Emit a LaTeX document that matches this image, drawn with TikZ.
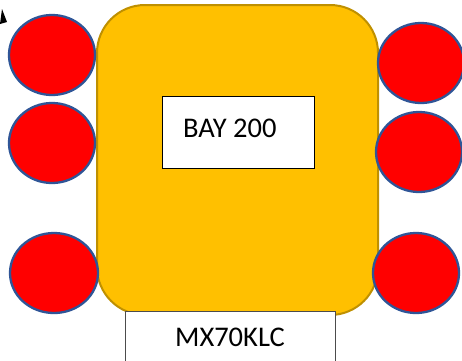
\documentclass[tikz,border=0pt]{standalone}
\usepackage{fontspec}
\setmainfont{Carlito}
\usepackage{tikz}
\usetikzlibrary{shapes.geometric,positioning}
\definecolor{bayBody}{HTML}{FFC000}
\definecolor{bayEdge}{HTML}{BF9000}
\definecolor{padRed}{HTML}{FF0000}
\definecolor{padEdge}{HTML}{2F5597}
\tikzset{
    bayBox/.style={
        rectangle,
        draw=bayEdge,
        fill=bayBody,
        line width=2pt,
        rounded corners=48pt
    },
    % Labels
    tagBox/.style={
        rectangle,
        draw=black,
        fill=white,
        line width=1pt,
        inner sep=0pt
    },
    tagText/.style={font=\fontsize{28.5}{31}\selectfont},
    % Wheels
    padBase/.style={
        ellipse,
        draw=padEdge,
        fill=padRed,
        line width=2.3pt,
        inner sep=0pt,
        minimum width=86pt,
        minimum height=80pt
    }
}
\begin{document}
\begin{tikzpicture}[x=1pt,y=-1pt]
    \useasboundingbox (0,0) rectangle (462,360);
    \fill[white] (0,0) rectangle (462,360);

    \node[bayBox, minimum width=281pt, minimum height=310pt] (body) at (237.5,160) {};

    \node[padBase] (fl) at (52,55) {};
    \node[padBase] (ml) at (52,143) {};
    \node[padBase, minimum width=88pt] (rl) at (54,273) {};
    \node[padBase] (fr) at (421,63) {};
    \node[padBase] (mr) at (419,152) {};
    \node[padBase] (rr) at (416,273) {};

    \node[tagBox, minimum width=152pt, minimum height=72pt] (bay) at (238,132) {};
    \node[tagText, anchor=west, inner sep=0pt] (baytext) at (183,128) {BAY 200};
    \node[tagBox, minimum width=210pt, minimum height=50pt, draw=black!70] (reg) at (230,336) {};
    \node[tagText] (regtext) at (230,337) {MX70KLC};

    % arrow tip in the corner
    \fill[black] (2,9) -- (7,22) -- (0,24) -- cycle;
\end{tikzpicture}
\end{document}
